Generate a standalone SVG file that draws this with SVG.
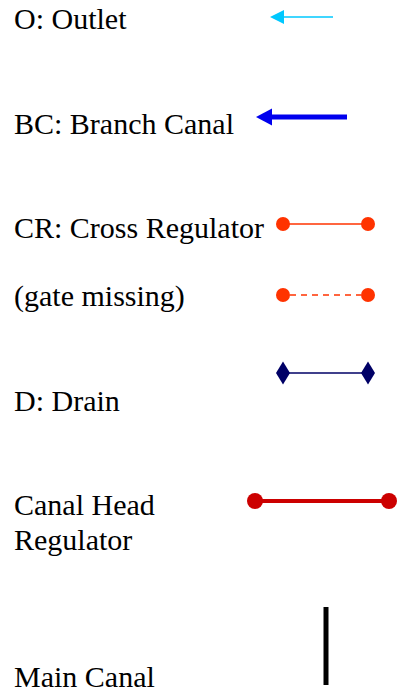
<svg xmlns="http://www.w3.org/2000/svg" width="398" height="693" viewBox="0 0 398 693">
<style>
text{font-family:"Liberation Serif","Times New Roman",serif;font-size:30px;fill:#000}
</style>
<rect width="398" height="693" fill="#fff"/>
<g id="labels">
<text x="14" y="29">O: Outlet</text>
<text x="14" y="134">BC: Branch Canal</text>
<text x="14" y="238">CR: Cross Regulator</text>
<text x="14" y="306">(gate missing)</text>
<text x="14" y="411">D: Drain</text>
<text x="14" y="515">Canal Head</text>
<text x="14" y="550">Regulator</text>
<text x="14" y="687">Main Canal</text>
</g>
<g id="connectors">
<g id="outlet">
<line x1="333" y1="17" x2="282" y2="17" stroke="#00c8ff" stroke-width="1.5"/>
<polygon points="270,17 284,10 284,24" fill="#00c8ff"/>
</g>
<g id="branch-canal">
<line x1="347" y1="117" x2="270" y2="117" stroke="#0000ee" stroke-width="5"/>
<polygon points="256,117 272,108.5 272,125.5" fill="#0000ee"/>
</g>
<g id="cross-regulator">
<line x1="283" y1="224" x2="368" y2="224" stroke="#ff3300" stroke-width="1.5"/>
<circle cx="283" cy="224" r="7" fill="#ff3300"/>
<circle cx="368" cy="224" r="7" fill="#ff3300"/>
</g>
<g id="cr-gate-missing">
<line x1="290" y1="295" x2="361" y2="295" stroke="#ff3300" stroke-width="1.5" stroke-dasharray="6,5"/>
<circle cx="283" cy="295" r="7" fill="#ff3300"/>
<circle cx="368" cy="295" r="7" fill="#ff3300"/>
</g>
<g id="drain">
<line x1="283" y1="373" x2="368" y2="373" stroke="#000066" stroke-width="1.5"/>
<polygon points="283,361.5 290,373 283,384.5 276,373" fill="#000066"/>
<polygon points="368,361.5 375,373 368,384.5 361,373" fill="#000066"/>
</g>
<g id="head-regulator">
<line x1="255" y1="501" x2="389" y2="501" stroke="#cc0000" stroke-width="4"/>
<circle cx="255" cy="501" r="8" fill="#cc0000"/>
<circle cx="389" cy="501" r="8" fill="#cc0000"/>
</g>
<g id="main-canal">
<line x1="326" y1="607" x2="326" y2="685" stroke="#000" stroke-width="5"/>
</g>
</g>
</svg>
